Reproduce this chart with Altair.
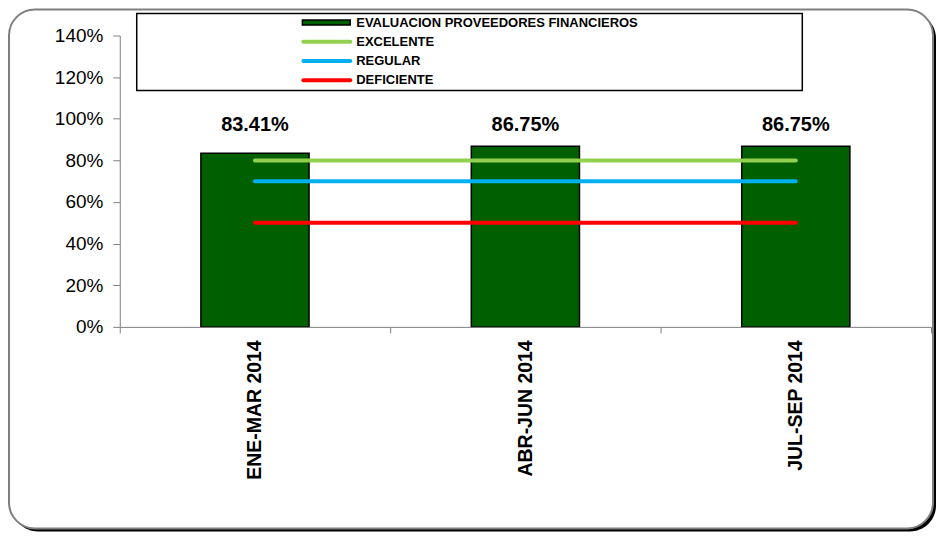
import altair as alt
import pandas as pd

categories = ["ENE-MAR 2014", "ABR-JUN 2014", "JUL-SEP 2014"]
evaluacion = [0.8341, 0.8675, 0.8675]
label_text = ["83.41%", "86.75%", "86.75%"]
thresholds = {"EXCELENTE": 0.80, "REGULAR": 0.70, "DEFICIENTE": 0.50}
series_names = ["EVALUACION PROVEEDORES  FINANCIEROS", "EXCELENTE", "REGULAR", "DEFICIENTE"]
series_colors = ["#006000", "#92D050", "#00B0F0", "#FF0000"]
y_ticks = [0, 0.2, 0.4, 0.6, 0.8, 1.0, 1.2, 1.4]

FONT = "Liberation Sans"
W, H = 813, 292

bars_df = pd.DataFrame({"cat": categories, "val": evaluacion, "lbl": label_text})
lines_df = pd.DataFrame(
    [{"cat": c, "serie": s, "val": v} for s, v in thresholds.items() for c in categories]
)
one = pd.DataFrame({"a": [0]})

x_enc = alt.X(
    "cat:N",
    sort=categories,
    scale=alt.Scale(paddingInner=0, paddingOuter=0),
    axis=alt.Axis(
        title=None, labelAngle=-90, tickBand="extent", labelFont=FONT, labelFontSize=19.5,
        labelFontWeight="bold", labelColor="black", domainColor="#808080", tickColor="#808080",
        tickSize=6, labelPadding=7, labelLimit=300, zindex=1,
    ),
)
y_scale = alt.Scale(domain=[0, 1.4], nice=False)
y_axis = alt.Axis(
    title=None, format=".0%", values=y_ticks, labelFont=FONT, labelFontSize=19,
    labelColor="black", domainColor="#808080", tickColor="#808080", tickSize=7,
    labelPadding=10, grid=False, zindex=1,
)

shadow = alt.Chart(one).mark_rect(fill="black", cornerRadius=26).encode(
    x=alt.value(-108), x2=alt.value(818), y=alt.value(-23), y2=alt.value(497)
)
frame = alt.Chart(one).mark_rect(fill="white", stroke="#7f7f7f", strokeWidth=2, cornerRadius=26).encode(
    x=alt.value(-111), x2=alt.value(815), y=alt.value(-26), y2=alt.value(494)
)

bars = alt.Chart(bars_df).mark_bar(
    width=alt.RelativeBandSize(0.4), fill=series_colors[0], stroke="black", strokeWidth=1.5
).encode(x=x_enc, y=alt.Y("val:Q", scale=y_scale, axis=y_axis))

lines = alt.Chart(lines_df).mark_line(strokeWidth=4, strokeCap="round").encode(
    x=alt.X("cat:N", sort=categories),
    y=alt.Y("val:Q"),
    color=alt.Color("serie:N", scale=alt.Scale(domain=series_names[1:], range=series_colors[1:]), legend=None),
)

labels = alt.Chart(bars_df).mark_text(
    font=FONT, fontSize=20, fontWeight="bold", color="black", baseline="middle"
).encode(x=alt.X("cat:N", sort=categories), y=alt.datum(0.97), text="lbl:N")

legend_box = alt.Chart(one).mark_rect(fill="white", stroke="black", strokeWidth=1.5).encode(
    x=alt.value(17), x2=alt.value(684), y=alt.value(-22), y2=alt.value(55)
)

legend_layers = []
for i, (name, col) in enumerate(zip(series_names, series_colors)):
    yy = -13 + i * 19.3
    d = pd.DataFrame({"name": [name]})
    if i == 0:
        sym = alt.Chart(d).mark_rect(fill=col, stroke="black", strokeWidth=1.5).encode(
            x=alt.value(183), x2=alt.value(231), y=alt.value(yy - 2.5), y2=alt.value(yy + 2.5)
        )
    else:
        sym = alt.Chart(d).mark_rule(color=col, strokeWidth=4, strokeCap="round").encode(
            x=alt.value(184), x2=alt.value(231), y=alt.value(yy)
        )
    txt = alt.Chart(d).mark_text(
        font=FONT, fontSize=13, fontWeight="bold", color="black", align="left", baseline="middle"
    ).encode(x=alt.value(237), y=alt.value(yy), text="name:N")
    legend_layers += [sym, txt]

chart = alt.layer(
    shadow, frame, bars, lines, labels, legend_box, *legend_layers
).properties(
    width=W, height=H, autosize="none",
    padding={"left": 112, "top": 27, "right": 5, "bottom": 206},
).configure_view(stroke=None)

chart.save("out.html", embed_options={"renderer": "svg", "actions": False})
